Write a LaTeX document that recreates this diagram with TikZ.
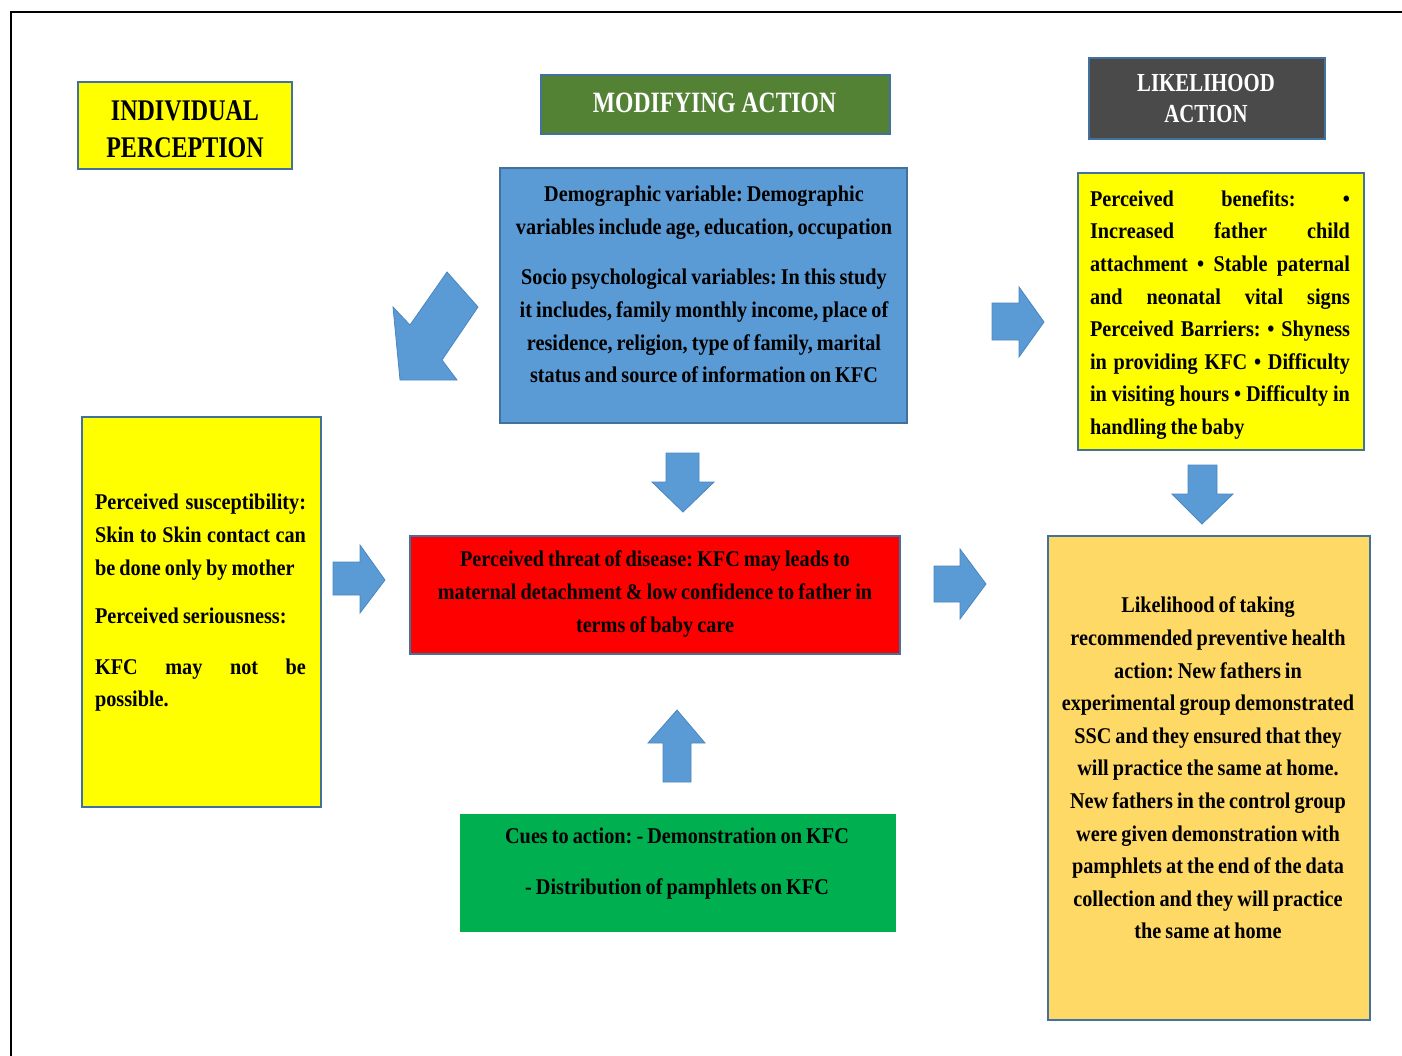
\documentclass[tikz,border=0pt]{standalone}
\usepackage{fontspec}
\setmainfont{Liberation Serif}[FakeStretch=0.9,WordSpace=0.8]
\newfontfamily\headfont{Liberation Serif}[FakeStretch=0.8]
\definecolor{boxedge}{HTML}{41719C}
\definecolor{ipyellow}{HTML}{FFFF00}
\definecolor{headgreen}{HTML}{548235}
\definecolor{headgray}{HTML}{4A4A4A}
\definecolor{demoblue}{HTML}{5B9BD5}
\definecolor{threatred}{HTML}{FF0000}
\definecolor{cuegreen}{HTML}{00B050}
\definecolor{likelyorange}{HTML}{FFD966}
\definecolor{arrowblue}{HTML}{5B9BD5}
\definecolor{arrowedge}{HTML}{4A86C0}
\newcommand{\jline}[2]{\makebox[#1][s]{#2}}
\frenchspacing
\begin{document}
\begin{tikzpicture}[x=1pt,y=-1pt,
  box/.style={draw=boxedge, line width=1.4pt, inner sep=0pt},
  body/.style={font=\fontsize{22.5}{32.6}\selectfont\bfseries\frenchspacing, inner sep=0pt, text=black},
  headtxt/.style={inner sep=0pt, align=center},
  barrow/.style={fill=arrowblue, draw=arrowedge, line width=0.8pt, line join=miter}]
\useasboundingbox (0,0) rectangle (1402,1055);
% outer frame
\draw[line width=2pt] (11,1060) -- (11,12) -- (1410,12);

% boxes
\node[box, fill=ipyellow, minimum width=214, minimum height=87] (ip) at (185,125.5) {};
\node[box, fill=headgreen, minimum width=349, minimum height=59] (ma) at (715.5,104.5) {};
\node[box, fill=headgray, minimum width=236, minimum height=81] (la) at (1207,98.5) {};
\node[box, fill=demoblue, minimum width=407, minimum height=255] (demo) at (703.5,295.5) {};
\node[box, fill=ipyellow, minimum width=286, minimum height=277] (ben) at (1221,311.5) {};
\node[box, fill=ipyellow, minimum width=239, minimum height=390] (sus) at (201.5,612) {};
\node[box, fill=threatred, minimum width=490, minimum height=118] (threat) at (655,595) {};
\node[draw=none, fill=cuegreen, inner sep=0pt, minimum width=436, minimum height=118] (cues) at (678,873) {};
\node[box, fill=likelyorange, minimum width=322, minimum height=484] (likely) at (1209,778) {};

% header texts
\node[headtxt, font=\headfont\fontsize{30}{37}\selectfont\bfseries] (ipT) at (185,129.5) {INDIVIDUAL\\PERCEPTION};
\node[headtxt, text=white, font=\headfont\fontsize{29.5}{35}\selectfont\bfseries] (maT) at (714.5,103) {MODIFYING ACTION};
\node[headtxt, text=white, font=\headfont\fontsize{26}{31}\selectfont\bfseries] (laT) at (1206,98.5) {LIKELIHOOD\\ACTION};

% body texts
\node[body, align=center] (demoT) at (704,284.5) {Demographic variable: Demographic\\variables include age, education, occupation\\[18pt]Socio psychological variables: In this study\\it includes, family monthly income, place of\\residence, religion, type of family, marital\\status and source of information on KFC};

\node[body, align=left] (benT) at (1220,315) {\jline{260pt}{Perceived benefits: •}\\\jline{260pt}{Increased father child}\\\jline{260pt}{attachment • Stable paternal}\\\jline{260pt}{and neonatal vital signs}\\\jline{260pt}{Perceived Barriers: • Shyness}\\\jline{260pt}{in providing KFC • Difficulty}\\\jline{260pt}{in visiting hours • Difficulty in}\\handling the baby};

\node[body, align=left] (susT) at (200.5,603) {\jline{211pt}{Perceived susceptibility:}\\\jline{211pt}{Skin to Skin contact can}\\be done only by mother\\[16pt]Perceived seriousness:\\[18pt]\jline{211pt}{KFC may not be}\\possible.};

\node[body, align=center] (threatT) at (655,594) {Perceived threat of disease: KFC may leads to\\maternal detachment \& low confidence to father in\\terms of baby care};

\node[body, align=center] (cuesT) at (677,863.5) {Cues to action: - Demonstration on KFC\\[18pt]- Distribution of pamphlets on KFC};

\node[body, align=center] (likelyT) at (1208,768) {Likelihood of taking\\recommended preventive health\\action: New fathers in\\experimental group demonstrated\\SSC and they ensured that they\\will practice the same at home.\\New fathers in the control group\\were given demonstration with\\pamphlets at the end of the data\\collection and they will practice\\the same at home};

% block arrows
\draw[barrow] (447,272) -- (478,307) -- (442,360) -- (457,380) -- (400,380) -- (393,307) -- (410,325) -- cycle;
\draw[barrow] (992,303) -- (1019,303) -- (1019,287) -- (1044,322) -- (1019,357) -- (1019,340) -- (992,340) -- cycle;
\draw[barrow] (666,453) -- (699,453) -- (699,482) -- (714,482) -- (683,512) -- (652,482) -- (666,482) -- cycle;
\draw[barrow] (1188,465) -- (1217,465) -- (1217,494) -- (1233,494) -- (1202,524) -- (1172,494) -- (1188,494) -- cycle;
\draw[barrow] (333,562) -- (360,562) -- (360,545) -- (385,580) -- (360,613) -- (360,595) -- (333,595) -- cycle;
\draw[barrow] (934,566) -- (960,566) -- (960,549) -- (986,584) -- (960,619) -- (960,602) -- (934,602) -- cycle;
\draw[barrow] (663,782) -- (663,743) -- (648,743) -- (677,710) -- (705,743) -- (691,743) -- (691,782) -- cycle;
\end{tikzpicture}
\end{document}
